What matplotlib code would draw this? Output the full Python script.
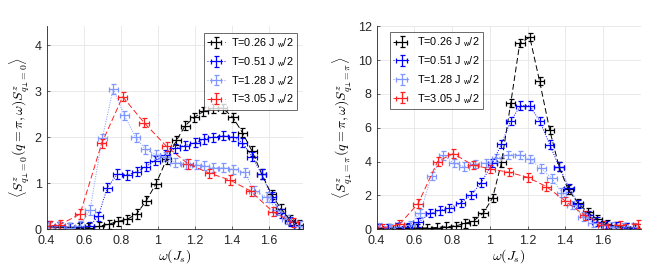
import matplotlib
matplotlib.use("Agg")
import matplotlib.pyplot as plt
import numpy as np

plt.rcParams['font.family'] = ['Liberation Sans', 'DejaVu Sans']
plt.rcParams['mathtext.fontset'] = 'cm'

labels = ["T=0.26 J $_{\\mathsf{w}}$/2", "T=0.51 J $_{\\mathsf{w}}$/2",
          "T=1.28 J $_{\\mathsf{w}}$/2", "T=3.05 J $_{\\mathsf{w}}$/2"]

# ---- left panel: q_perp = 0 ----
L_black_x = [0.415, 0.468, 0.52, 0.573, 0.625, 0.68, 0.735, 0.786, 0.836, 0.885, 0.937, 0.99, 1.047, 1.10, 1.147, 1.196, 1.246, 1.298, 1.35, 1.405, 1.456, 1.508, 1.56, 1.613, 1.663, 1.713, 1.76]
L_black_y = [0.05, 0.05, 0.04, 0.03, 0.03, 0.06, 0.11, 0.17, 0.22, 0.33, 0.62, 0.99, 1.52, 1.93, 2.25, 2.43, 2.56, 2.63, 2.63, 2.43, 2.1, 1.7, 1.2, 0.76, 0.45, 0.2, 0.1]
L_blue_x = [0.415, 0.468, 0.526, 0.578, 0.63, 0.678, 0.727, 0.781, 0.835, 0.885, 0.935, 0.984, 1.038, 1.092, 1.145, 1.2, 1.248, 1.298, 1.352, 1.406, 1.456, 1.508, 1.56, 1.613, 1.663, 1.713, 1.76]
L_blue_y = [0.07, 0.06, 0.04, 0.05, 0.06, 0.28, 0.9, 1.2, 1.18, 1.25, 1.36, 1.49, 1.62, 1.76, 1.82, 1.88, 1.96, 2.0, 2.03, 2.01, 1.88, 1.58, 1.2, 0.7, 0.35, 0.17, 0.07]
L_lblue_x = [0.415, 0.468, 0.52, 0.578, 0.634, 0.70, 0.759, 0.819, 0.88, 0.933, 0.989, 1.038, 1.092, 1.15, 1.208, 1.25, 1.3, 1.352, 1.406, 1.469, 1.518, 1.586, 1.64, 1.694, 1.765]
L_lblue_y = [0.05, 0.06, 0.03, 0.08, 0.42, 1.98, 3.05, 2.48, 2.0, 1.74, 1.62, 1.58, 1.45, 1.42, 1.4, 1.38, 1.34, 1.34, 1.3, 1.24, 0.83, 0.7, 0.42, 0.22, 0.07]
L_red_x = [0.418, 0.472, 0.58, 0.697, 0.81, 0.925, 1.047, 1.163, 1.277, 1.389, 1.50, 1.62, 1.73]
L_red_y = [0.07, 0.1, 0.33, 1.87, 2.88, 2.32, 1.8, 1.42, 1.22, 1.07, 0.83, 0.38, 0.15]

# ---- right panel: q_perp = pi ----
R_black_x = [0.41, 0.46, 0.51, 0.56, 0.615, 0.665, 0.718, 0.77, 0.82, 0.87, 0.915, 0.965, 1.015, 1.062, 1.111, 1.159, 1.212, 1.264, 1.318, 1.367, 1.415, 1.468, 1.52, 1.568, 1.62, 1.67, 1.72, 1.768]
R_black_y = [0.05, 0.05, 0.05, 0.05, 0.06, 0.08, 0.1, 0.15, 0.2, 0.35, 0.5, 0.95, 1.85, 3.95, 7.45, 11.0, 11.35, 8.75, 5.85, 3.7, 2.35, 1.55, 1.0, 0.6, 0.32, 0.16, 0.1, 0.06]
R_blue_x = [0.41, 0.46, 0.51, 0.565, 0.62, 0.685, 0.735, 0.785, 0.845, 0.9, 0.955, 1.014, 1.062, 1.111, 1.162, 1.212, 1.264, 1.318, 1.367, 1.42, 1.47, 1.52, 1.568, 1.617, 1.67, 1.72, 1.768]
R_blue_y = [0.08, 0.05, 0.1, 0.12, 0.4, 0.95, 1.12, 1.25, 1.55, 2.02, 2.76, 3.9, 5.05, 6.4, 7.3, 7.3, 6.4, 5.0, 3.7, 2.45, 1.5, 0.85, 0.45, 0.25, 0.15, 0.1, 0.08]
R_lblue_x = [0.414, 0.47, 0.52, 0.576, 0.63, 0.691, 0.753, 0.81, 0.864, 0.92, 0.979, 1.035, 1.097, 1.159, 1.212, 1.273, 1.33, 1.38, 1.436, 1.494, 1.547, 1.597, 1.65, 1.706, 1.76]
R_lblue_y = [0.12, 0.05, 0.15, 0.25, 0.95, 3.15, 4.37, 3.9, 3.7, 3.85, 3.9, 4.2, 4.4, 4.4, 4.14, 3.6, 3.0, 2.17, 1.44, 0.75, 0.39, 0.26, 0.16, 0.12, 0.14]
R_red_x = [0.43, 0.52, 0.62, 0.723, 0.805, 0.91, 1.0, 1.1, 1.2, 1.3, 1.4, 1.503, 1.6, 1.69, 1.785]
R_red_y = [0.08, 0.28, 1.52, 4.0, 4.47, 3.8, 3.57, 3.37, 3.07, 2.52, 1.67, 0.82, 0.26, 0.24, 0.32]

colors = ['black', '#0000ff', '#7f97ff', '#ff2020']
styles = [(0, (6, 3)), (0, (1, 1.5)), (0, (1, 1.5)), (0, (6, 3))]

fig = plt.figure(figsize=(6.6, 2.7), dpi=100)
axL = fig.add_axes([0.0707, 0.151, 0.389, 0.753])
axR = fig.add_axes([0.5707, 0.151, 0.4, 0.752])

def draw(ax, series, yerr, ylim, yticks, xlim, ylabel, legloc, anchor):
    for (x, y), c, ls, lab in zip(series, colors, styles, labels):
        ax.errorbar(x, y, xerr=0.025, yerr=yerr, color=c, ls=ls, lw=0.7,
                    elinewidth=0.9, capsize=1.8, capthick=0.9, label=lab)
    ax.set_xlim(*xlim)
    ax.set_ylim(*ylim)
    ax.set_xticks([0.4, 0.6, 0.8, 1.0, 1.2, 1.4, 1.6])
    ax.set_xticklabels(['0.4', '0.6', '0.8', '1', '1.2', '1.4', '1.6'])
    ax.set_yticks(yticks)
    ax.grid(True, color='#e6e6e6', lw=0.6)
    ax.set_axisbelow(True)
    for s in ['top', 'right']:
        ax.spines[s].set_visible(False)
    for s in ['left', 'bottom']:
        ax.spines[s].set_color('#262626')
        ax.spines[s].set_linewidth(0.6)
    ax.tick_params(direction='in', length=2.5, width=0.5, labelsize=9,
                   colors='#262626')
    ax.tick_params(axis='x', pad=4.5)
    ax.tick_params(axis='y', pad=3.5)
    ax.set_xlabel(r'$\omega(J_s)$', fontsize=10, labelpad=0)
    ax.set_ylabel(ylabel, fontsize=10, labelpad=2)
    leg = ax.legend(loc=legloc, bbox_to_anchor=anchor, fontsize=7.8,
                    frameon=True, fancybox=False,
                    edgecolor='#262626', handlelength=1.6, handletextpad=0.6,
                    borderpad=0.3, labelspacing=0.45, borderaxespad=0)
    leg.get_frame().set_linewidth(0.6)

draw(axL, [(L_black_x, L_black_y), (L_blue_x, L_blue_y), (L_lblue_x, L_lblue_y), (L_red_x, L_red_y)],
     0.1, (0, 4.42), [0, 1, 2, 3, 4], (0.4, 1.785),
     r'$\langle S^z_{q_\perp\!=0}(q=\pi,\omega)S^z_{q_\perp\!=0}\rangle$', 'upper right',
     (0.975, 0.965))
draw(axR, [(R_black_x, R_black_y), (R_blue_x, R_blue_y), (R_lblue_x, R_lblue_y), (R_red_x, R_red_y)],
     0.25, (0, 12), [0, 2, 4, 6, 8, 10, 12], (0.4, 1.8),
     r'$\langle S^z_{q_\perp\!=\pi}(q=\pi,\omega)S^z_{q_\perp\!=\pi}\rangle$', 'upper left',
     (0.05, 0.97))

fig.savefig('out.png', dpi=100)
